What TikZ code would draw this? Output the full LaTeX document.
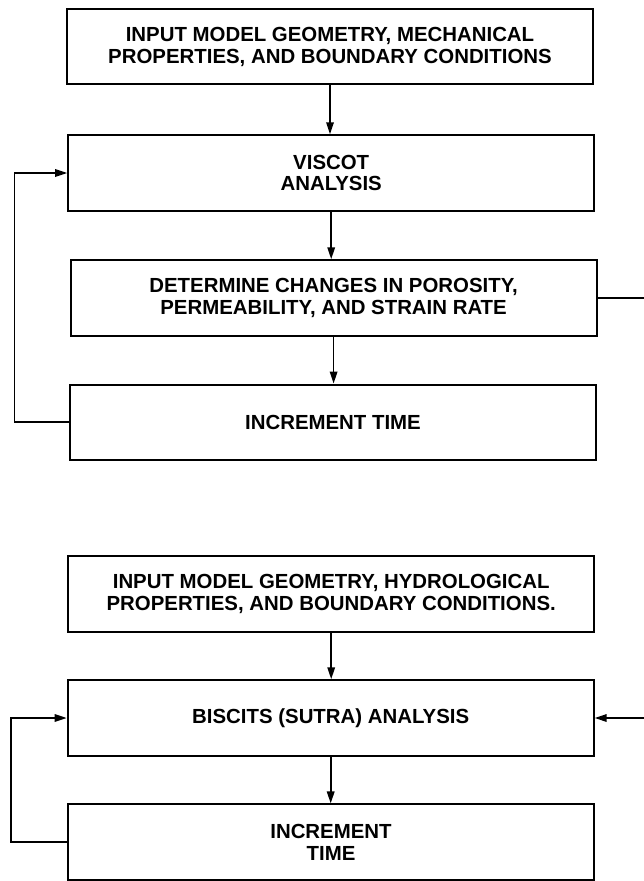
\documentclass[tikz,border=0pt]{standalone}
\usepackage{fontspec}
\setmainfont{Liberation Sans}
\usetikzlibrary{arrows.meta}
\begin{document}
\begin{tikzpicture}[x=1pt,y=-1pt,
  stepbox/.style={draw, line width=2pt, minimum width=526pt, minimum height=75.5pt,
    inner sep=0pt, align=center, font=\bfseries\fontsize{20.4}{21.7}\selectfont},
  conn/.style={line width=1.7pt},
  arr/.style={conn, -{Triangle[length=12pt,width=7.5pt]}}]
\useasboundingbox (0,0) rectangle (644,881);
\fill[white] (0,0) rectangle (644,881);
\node[stepbox] (b1) at (330,46.7) {INPUT MODEL GEOMETRY, MECHANICAL\\PROPERTIES, AND BOUNDARY CONDITIONS};
\node[stepbox] (b2) at (331.2,173) {VISCOT\\ANALYSIS};
\node[stepbox] (b3) at (333.6,298) {DETERMINE CHANGES IN POROSITY,\\PERMEABILITY, AND STRAIN RATE};
\node[stepbox] (b4) at (333,422.3) {INCREMENT TIME};
\node[stepbox] (b5) at (331.2,594.2) {INPUT MODEL GEOMETRY, HYDROLOGICAL\\PROPERTIES, AND BOUNDARY CONDITIONS.};
\node[stepbox] (b6) at (330.7,718) {BISCITS (SUTRA) ANALYSIS};
\node[stepbox] (b7) at (331,842.2) {INCREMENT\\TIME};
\coordinate (rl) at (14.5,0);
\coordinate (rr) at (652,0);
\coordinate (rb) at (10.7,0);
\draw[arr] (b1.south) -- (b1.south |- b2.north);
\draw[arr] (b2.south) -- (b2.south |- b3.north);
\draw[arr] (b3.south) -- (b3.south |- b4.north);
\draw[arr] (b5.south) -- (b5.south |- b6.north);
\draw[arr] (b6.south) -- (b6.south |- b7.north);
\draw[arr] (b4.west) -- (rl |- b4.west) -- (rl |- b2.west) -- (b2.west);
\draw[arr] (b3.east) -- (rr |- b3.east) -- (rr |- b6.east) -- (b6.east);
\draw[arr] (b7.west) -- (rb |- b7.west) -- (rb |- b6.west) -- (b6.west);
\end{tikzpicture}
\end{document}
